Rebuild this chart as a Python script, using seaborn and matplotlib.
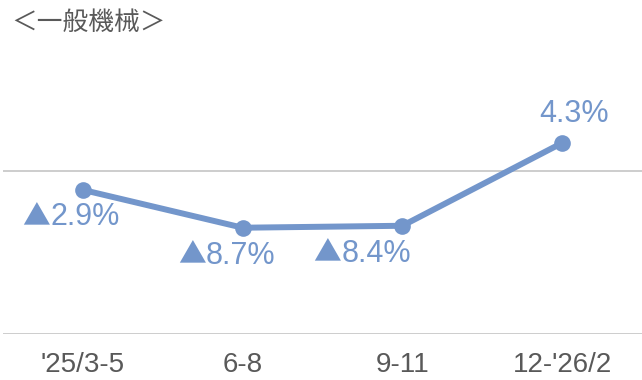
import matplotlib
matplotlib.use("Agg")
import matplotlib.pyplot as plt
from matplotlib.offsetbox import TextArea, HPacker, AnnotationBbox
import seaborn as sns
import pandas as pd

# Quarterly year-on-year change (%) for general machinery
periods = ["'25/3-5", "6-8", "9-11", "12-'26/2"]
changes = [-2.9, -8.7, -8.4, 4.3]
neg_mark = "▲"  # Japanese notation for a decrease
label_offsets = [(-8.6, -19.8), (-11.5, -20), (-29, -20), (8.6, 21)]  # points, relative to marker

title = "＜一般機械＞"
line_color = "#7396cb"
grid_color = "#c9c9c9"
text_gray = "#595959"

sns.set_theme(style="white")
plt.rcParams["font.family"] = ["Liberation Sans", "Noto Sans CJK JP", "DejaVu Sans"]

df = pd.DataFrame({"period": periods, "change": changes})

fig = plt.figure(figsize=(6.42, 3.80), dpi=100)
ax = fig.add_axes([3 / 642, 46 / 380, 1 - 3 / 642, (334 - 8) / 380])

# reference lines at zero and at the lower bound
ax.axhline(0, color=grid_color, lw=1.3, zorder=1)
ax.axhline(-25, color=grid_color, lw=1.3, zorder=1)

sns.lineplot(data=df, x="period", y="change", ax=ax, color=line_color,
             lw=4.3, marker="o", markersize=12, markeredgewidth=0,
             zorder=3, sort=False)

num_props = dict(size=22, color=line_color, family="Liberation Sans")
mark_props = dict(size=20, color=line_color, family="Noto Sans CJK JP")
for i, (v, off) in enumerate(zip(changes, label_offsets)):
    parts = []
    if v < 0:
        parts.append(TextArea(neg_mark, textprops=mark_props))
    parts.append(TextArea(f"{abs(v):.1f}%", textprops=num_props))
    box = HPacker(children=parts, align="baseline", pad=0, sep=0)
    ab = AnnotationBbox(box, (i, v), xybox=off, xycoords="data",
                        boxcoords="offset points", frameon=False,
                        box_alignment=(0.5, 0.5), zorder=4)
    ax.add_artist(ab)

ax.set_xlim(-0.5, 3.5)
ax.set_ylim(-25, 25)
ax.set_xlabel("")
ax.set_ylabel("")
ax.set_yticks([])
ax.tick_params(axis="x", length=0, pad=13, labelsize=20, labelcolor=text_gray)
for s in ax.spines.values():
    s.set_visible(False)
ax.patch.set_alpha(0)

fig.text(11 / 642, 1 - 23 / 380, title, ha="left", va="center", fontsize=18.5,
         color=text_gray, family=["Noto Sans CJK JP", "DejaVu Sans"])

fig.savefig("out.png", dpi=100, facecolor="white")
